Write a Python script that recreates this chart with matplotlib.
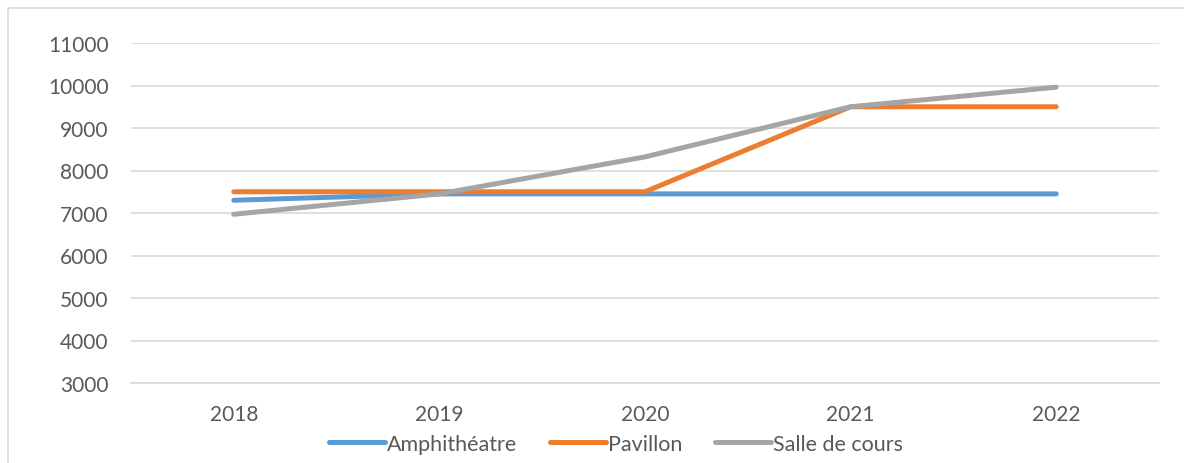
import matplotlib
matplotlib.use("Agg")
import matplotlib.pyplot as plt
from matplotlib.patches import Rectangle

years = ["2018", "2019", "2020", "2021", "2022"]
amphitheatre = [7300, 7450, 7450, 7450, 7450]
pavillon = [7500, 7500, 7500, 9500, 9500]
salle_de_cours = [6970, 7450, 8320, 9500, 9960]
yticks = [3000, 4000, 5000, 6000, 7000, 8000, 9000, 10000, 11000]

plt.rcParams['font.family'] = ['Lato', 'DejaVu Sans']
W, H = 1184, 464
fig = plt.figure(figsize=(W/100, H/100), dpi=100)
ax = fig.add_axes([131/W, 1-384/H, (1159-131)/W, (384-44)/H])

x = list(range(len(years)))
lw = 3.6
ax.plot(x, amphitheatre, color='#5B9BD5', lw=lw, solid_capstyle='round', solid_joinstyle='round', label='Amphithéatre')
ax.plot(x, pavillon, color='#ED7D31', lw=lw, solid_capstyle='round', solid_joinstyle='round', label='Pavillon')
ax.plot(x, salle_de_cours, color='#A5A5A5', lw=lw, solid_capstyle='round', solid_joinstyle='round', label='Salle de cours')

ax.set_xlim(-0.5, len(years)-0.5)
ax.set_ylim(3000, 11000)
ax.set_yticks(yticks)
ax.set_xticks(x)
ax.set_xticklabels(years)
ax.grid(axis='y', color='#D9D9D9', lw=1.2)
ax.set_axisbelow(True)
for s in ['left', 'right', 'top']:
    ax.spines[s].set_visible(False)
ax.spines['bottom'].set_color('#D9D9D9')
ax.spines['bottom'].set_linewidth(1.2)
ax.tick_params(axis='both', length=0, colors='#595959')
ax.tick_params(axis='y', pad=16, labelsize=15)
ax.tick_params(axis='x', pad=15, labelsize=15)

leg = ax.legend(loc='center', bbox_to_anchor=((616-131)/1028, (384-445)/(384-44)), ncol=3, frameon=False,
                fontsize=15.5, handlelength=2.6, handletextpad=0.1, columnspacing=1.5)
for t in leg.get_texts():
    t.set_color('#595959')

fig.add_artist(Rectangle((8/W, -0.1), 1.2, 1-9/H+0.1, transform=fig.transFigure,
                         fill=False, edgecolor='#D9D9D9', lw=1.2))

fig.savefig('out.png', dpi=100)
